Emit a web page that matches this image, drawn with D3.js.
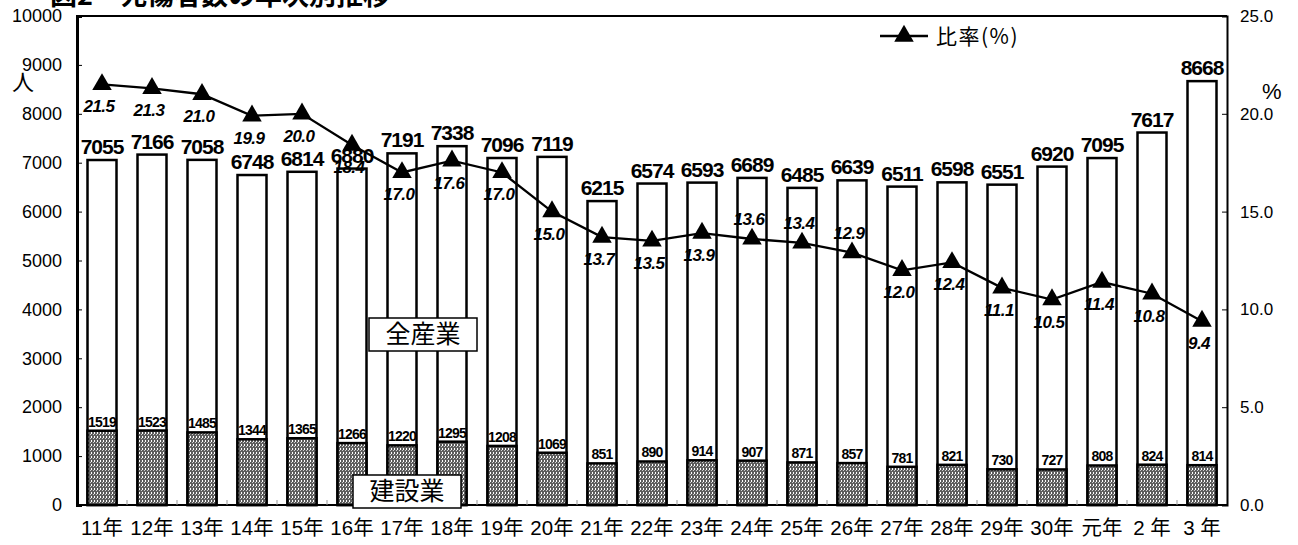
<!DOCTYPE html>
<html>
<head>
<meta charset="utf-8">
<script src="https://cdn.jsdelivr.net/npm/d3@7"></script>
<style>
    body { margin: 0; background: #fff; }
    text { font-family: "Liberation Sans", Arial, "Noto Sans CJK JP", sans-serif; }
    .jp { font-family: "Noto Sans CJK JP", sans-serif; }
</style>
</head>
<body>
<svg id="chart" width="1298" height="545"></svg>
<script>
// Data
var years = ["11年", "12年", "13年", "14年", "15年", "16年", "17年", "18年", "19年", "20年",
    "21年", "22年", "23年", "24年", "25年", "26年", "27年", "28年", "29年", "30年", "元年", "2 年", "3 年"];
var allIndustry = [7055, 7166, 7058, 6748, 6814, 6880, 7191, 7338, 7096, 7119,
    6215, 6574, 6593, 6689, 6485, 6639, 6511, 6598, 6551, 6920, 7095, 7617, 8668];
var construction = [1519, 1523, 1485, 1344, 1365, 1266, 1220, 1295, 1208, 1069,
    851, 890, 914, 907, 871, 857, 781, 821, 730, 727, 808, 824, 814];
var ratio = [21.5, 21.3, 21.0, 19.9, 20.0, 18.4, 17.0, 17.6, 17.0, 15.0,
    13.7, 13.5, 13.9, 13.6, 13.4, 12.9, 12.0, 12.4, 11.1, 10.5, 11.4, 10.8, 9.4];
var leftTicks = [0, 1000, 2000, 3000, 4000, 5000, 6000, 7000, 8000, 9000, 10000];
var rightTicks = [0, 5, 10, 15, 20, 25];

(function() {

    var svg = d3.select("#chart");

    // plot area
    var pLeft = 77, pRight = 1227, pTop = 16, pBottom = 505;

    var x = d3.scaleBand()
        .domain(d3.range(years.length))
        .range([pLeft, pRight])
        .paddingInner(0.42)
        .paddingOuter(0.21);

    var yL = d3.scaleLinear().domain([0, 10000]).range([pBottom, pTop]);
    var yR = d3.scaleLinear().domain([0, 25]).range([pBottom, pTop]);

    function cx(i) { return x(i) + x.bandwidth() / 2; }

    // hatch pattern for construction bars
    var defs = svg.append("defs");
    var pat = defs.append("pattern")
        .attr("id", "hatch")
        .attr("patternUnits", "userSpaceOnUse")
        .attr("width", 3)
        .attr("height", 4);
    pat.append("rect").attr("width", 3).attr("height", 4).attr("fill", "#5e5e5e");
    pat.append("rect").attr("x", 1).attr("y", 0).attr("width", 1).attr("height", 2).attr("fill", "#ffffff");
    pat.append("rect").attr("x", 0).attr("y", 2).attr("width", 1).attr("height", 1).attr("fill", "#d0d0d0");

    // title (cut off at top)
    svg.append("text")
        .attr("class", "jp")
        .attr("x", 50)
        .attr("y", 5)
        .attr("font-size", 27)
        .attr("font-weight", "bold")
        .text("図2　死傷者数の年次別推移");

    // top frame
    svg.append("line")
        .attr("x1", pLeft).attr("x2", pRight)
        .attr("y1", pTop).attr("y2", pTop)
        .attr("stroke", "#000").attr("stroke-width", 2);

    // total bars
    svg.append("g").selectAll("rect")
        .data(allIndustry)
        .enter().append("rect")
        .attr("x", function(d, i) { return x(i); })
        .attr("y", function(d) { return yL(d); })
        .attr("width", x.bandwidth())
        .attr("height", function(d) { return yL(0) - yL(d); })
        .attr("fill", "#fff")
        .attr("stroke", "#000")
        .attr("stroke-width", 2.5);

    // construction bars
    svg.append("g").selectAll("rect")
        .data(construction)
        .enter().append("rect")
        .attr("x", function(d, i) { return x(i); })
        .attr("y", function(d) { return yL(d); })
        .attr("width", x.bandwidth())
        .attr("height", function(d) { return yL(0) - yL(d); })
        .attr("fill", "url(#hatch)")
        .attr("stroke", "#000")
        .attr("stroke-width", 2.5);

    // total labels
    svg.append("g").selectAll("text")
        .data(allIndustry)
        .enter().append("text")
        .attr("x", function(d, i) { return cx(i); })
        .attr("y", function(d) { return yL(d) - 6; })
        .attr("text-anchor", "middle")
        .attr("font-size", 21)
        .attr("font-weight", "bold")
        .attr("letter-spacing", -1)
        .text(function(d) { return d; });

    // construction labels
    svg.append("g").selectAll("text")
        .data(construction)
        .enter().append("text")
        .attr("x", function(d, i) { return cx(i); })
        .attr("y", function(d) { return yL(d) - 4; })
        .attr("text-anchor", "middle")
        .attr("font-size", 14)
        .attr("font-weight", "bold")
        .attr("letter-spacing", -0.8)
        .text(function(d) { return d; });

    // axes
    var axL = svg.append("g")
        .attr("transform", "translate(" + pLeft + ",0)")
        .call(d3.axisLeft(yL).tickValues(leftTicks).tickSize(-5).tickPadding(15).tickFormat(d3.format("d")));
    axL.select(".domain").attr("stroke-width", 3);
    axL.selectAll("text").attr("font-size", 18).attr("fill", "#000")
        .style("font-family", "'Liberation Sans', Arial, sans-serif");

    var axR = svg.append("g")
        .attr("transform", "translate(" + pRight + ",0)")
        .call(d3.axisRight(yR).tickValues(rightTicks).tickSize(-5).tickPadding(13).tickFormat(d3.format(".1f")));
    axR.select(".domain").attr("stroke-width", 2);
    axR.selectAll("text").attr("font-size", 17).attr("fill", "#000")
        .style("font-family", "'Liberation Sans', Arial, sans-serif");

    // bottom axis
    svg.append("line")
        .attr("x1", pLeft).attr("x2", pRight)
        .attr("y1", pBottom).attr("y2", pBottom)
        .attr("stroke", "#000").attr("stroke-width", 2);

    svg.append("g").selectAll("line")
        .data(d3.range(1, years.length))
        .enter().append("line")
        .attr("x1", function(i) { return x(i) - x.step() * x.paddingInner() / 2; })
        .attr("x2", function(i) { return x(i) - x.step() * x.paddingInner() / 2; })
        .attr("y1", pBottom)
        .attr("y2", pBottom - 5)
        .attr("stroke", "#999")
        .attr("stroke-width", 1);

    svg.append("g").selectAll("text")
        .data(years)
        .enter().append("text")
        .attr("x", function(d, i) { return cx(i); })
        .attr("y", 535)
        .attr("text-anchor", "middle")
        .attr("font-size", 20.5)
        .text(function(d) { return d; });

    // ratio line
    var line = d3.line()
        .x(function(d, i) { return cx(i); })
        .y(function(d) { return yR(d); });

    svg.append("path")
        .datum(ratio)
        .attr("d", line)
        .attr("fill", "none")
        .attr("stroke", "#000")
        .attr("stroke-width", 2.3);

    var tri = d3.symbol().type(d3.symbolTriangle).size(165);

    svg.append("g").selectAll("path")
        .data(ratio)
        .enter().append("path")
        .attr("d", tri)
        .attr("transform", function(d, i) { return "translate(" + cx(i) + "," + yR(d) + ")"; })
        .attr("fill", "#000");

    // ratio labels: a few sit above the markers
    var aboveIdx = [13, 14, 15];
    svg.append("g").selectAll("text")
        .data(ratio)
        .enter().append("text")
        .attr("x", function(d, i) { return cx(i) - 3; })
        .attr("y", function(d, i) {
            return aboveIdx.indexOf(i) >= 0 ? yR(d) - 14 : yR(d) + 28;
        })
        .attr("text-anchor", "middle")
        .attr("font-size", 17)
        .attr("font-weight", "bold")
        .attr("font-style", "italic")
        .attr("letter-spacing", -0.5)
        .text(function(d) { return d.toFixed(1); });

    // unit labels
    svg.append("text")
        .attr("class", "jp")
        .attr("x", 12).attr("y", 90)
        .attr("font-size", 22)
        .text("人");

    svg.append("text")
        .attr("x", 1262).attr("y", 99)
        .attr("font-size", 22)
        .text("%");

    // legend
    svg.append("line")
        .attr("x1", 880).attr("x2", 928)
        .attr("y1", 36).attr("y2", 36)
        .attr("stroke", "#000").attr("stroke-width", 2.3);
    svg.append("path")
        .attr("d", tri)
        .attr("transform", "translate(904,36)")
        .attr("fill", "#000");
    svg.append("text")
        .attr("class", "jp")
        .attr("x", 936).attr("y", 44)
        .attr("font-size", 21)
        .attr("letter-spacing", 1.5)
        .text("比率(%)");

    // series name boxes
    function nameBox(label, cxPos, cyPos) {
        var g = svg.append("g");
        g.append("rect")
            .attr("x", cxPos - 54).attr("y", cyPos - 16)
            .attr("width", 108).attr("height", 33)
            .attr("fill", "#fff")
            .attr("stroke", "#000")
            .attr("stroke-width", 1.5);
        g.append("text")
            .attr("class", "jp")
            .attr("x", cxPos).attr("y", cyPos + 9)
            .attr("text-anchor", "middle")
            .attr("font-size", 25)
            .text(label);
    }
    nameBox("全産業", cx(6) + 21, 334);
    nameBox("建設業", cx(6) + 5, 491);

})();
</script>
</body>
</html>
